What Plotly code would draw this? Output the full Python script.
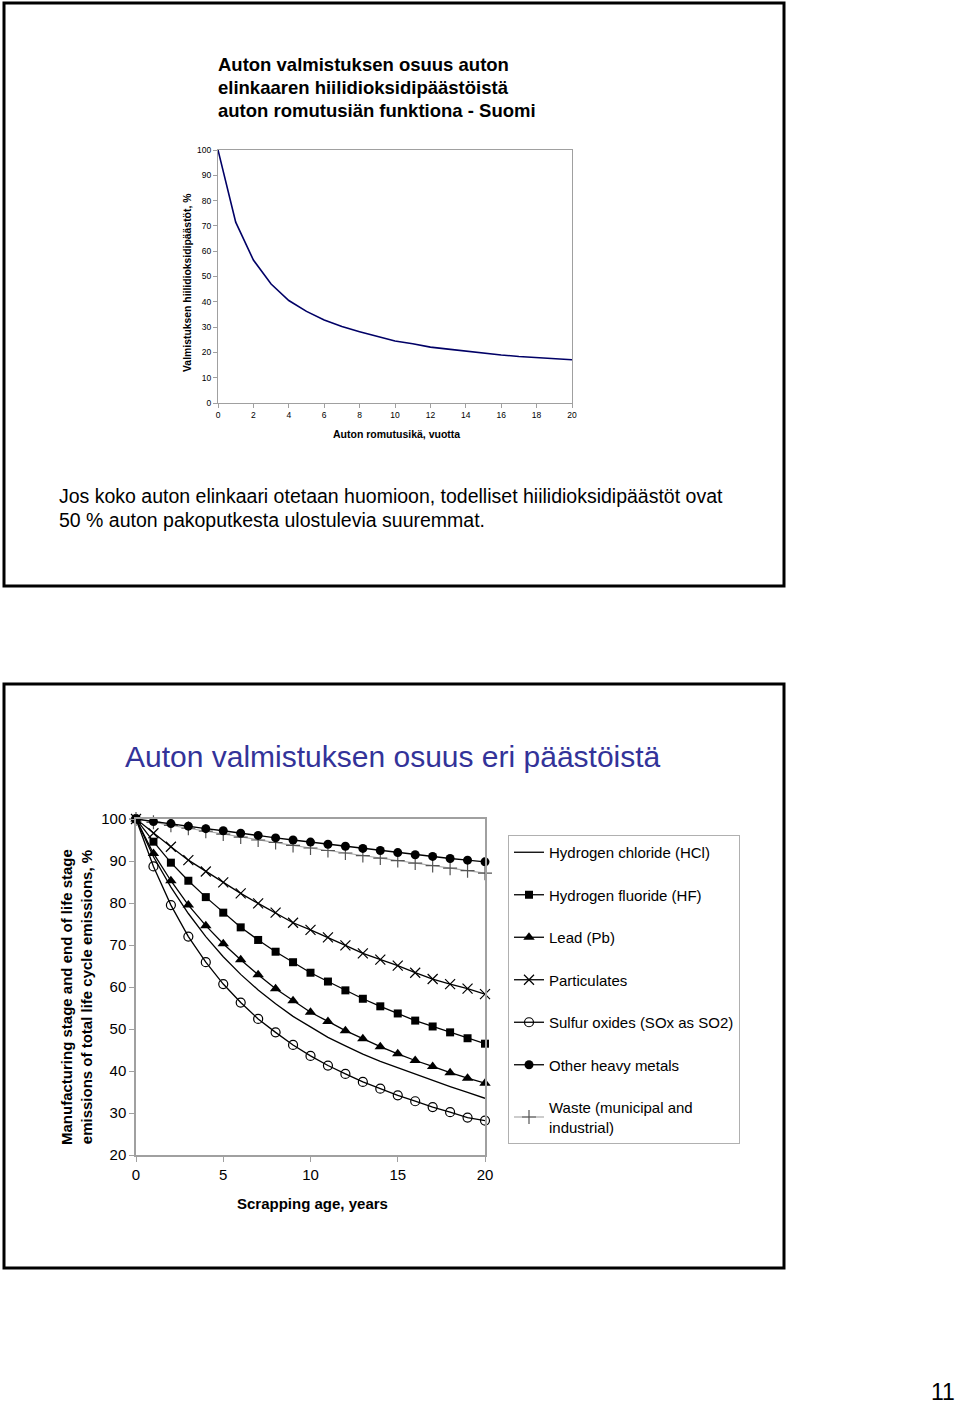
import plotly.graph_objects as go

W, H = 960, 1407
def px(x): return x / W
def py(y): return 1 - y / H

FONT = "Liberation Sans, Arial, sans-serif"

# ---------- Top chart data ----------
top_years = list(range(0, 21))
top_share = [100, 71.5, 56.5, 47.0, 40.5, 36.2, 32.8, 30.2, 28.2, 26.2, 24.5,
             23.4, 22.1, 21.3, 20.5, 19.7, 19.0, 18.4, 17.9, 17.3, 17.1]
top_xticks = list(range(0, 21, 2))
top_yticks = list(range(0, 101, 10))

# ---------- Bottom chart data ----------
years = list(range(0, 21))
hcl = [100, 91.0, 83.8, 77.5, 72.0, 67.2, 63.0, 59.3, 56.0, 53.0, 50.5,
       48.0, 46.0, 44.0, 42.3, 40.8, 39.2, 37.7, 36.3, 34.9, 33.5]
hf = [100, 94.6, 89.6, 85.3, 81.4, 77.7, 74.2, 71.2, 68.4, 65.9, 63.4,
      61.3, 59.2, 57.2, 55.4, 53.7, 52.0, 50.6, 49.2, 47.8, 46.5]
lead = [100, 91.8, 85.3, 79.5, 74.6, 70.3, 66.5, 62.9, 59.6, 56.7, 54.0,
        51.8, 49.6, 47.7, 45.8, 44.1, 42.5, 41.1, 39.6, 38.3, 37.1]
particulates = [100, 96.6, 93.4, 90.2, 87.5, 84.9, 82.3, 79.9, 77.7, 75.3, 73.6,
                71.8, 69.9, 68.0, 66.5, 65.1, 63.4, 61.9, 60.7, 59.6, 58.3]
sox = [100, 88.7, 79.5, 72.0, 65.9, 60.7, 56.3, 52.4, 49.2, 46.2, 43.6,
       41.3, 39.3, 37.4, 35.8, 34.2, 32.8, 31.4, 30.2, 28.9, 28.2]
heavy = [100, 99.4, 98.9, 98.3, 97.7, 97.2, 96.6, 96.1, 95.5, 95.0, 94.5,
         94.0, 93.5, 93.0, 92.5, 92.0, 91.5, 91.1, 90.6, 90.2, 89.8]
waste = [100, 99.2, 98.5, 97.8, 97.1, 96.4, 95.7, 95.0, 94.4, 93.7, 93.1,
         92.5, 91.9, 91.3, 90.7, 90.1, 89.5, 88.9, 88.3, 87.7, 87.1]
bot_xticks = [0, 5, 10, 15, 20]
bot_yticks = list(range(20, 101, 10))

series_names = ["Hydrogen chloride (HCl)", "Hydrogen fluoride (HF)", "Lead (Pb)",
                "Particulates", "Sulfur oxides (SOx as SO2)", "Other heavy metals",
                "Waste (municipal and<br>industrial)"]

fig = go.Figure()

# top chart line
fig.add_trace(go.Scatter(x=top_years, y=top_share, mode="lines",
                         line=dict(color="#000066", width=1.6),
                         xaxis="x", yaxis="y", showlegend=False, cliponaxis=False))

styles = [
    dict(data=hcl, mode="lines", marker=dict(), line=dict(color="black", width=1.3)),
    dict(data=hf, mode="lines+markers", marker=dict(symbol="square", size=8, color="black"),
         line=dict(color="black", width=1.3)),
    dict(data=lead, mode="lines+markers", marker=dict(symbol="triangle-up", size=10, color="black"),
         line=dict(color="black", width=1.3)),
    dict(data=particulates, mode="lines+markers",
         marker=dict(symbol="x-thin-open", size=10, color="black", line=dict(color="black", width=1.2)),
         line=dict(color="black", width=1.3)),
    dict(data=sox, mode="lines+markers",
         marker=dict(symbol="circle-open", size=9, color="black", line=dict(color="black", width=1.2)),
         line=dict(color="black", width=1.3)),
    dict(data=heavy, mode="lines+markers", marker=dict(symbol="circle", size=9, color="black"),
         line=dict(color="black", width=1.3)),
    dict(data=waste, mode="lines+markers",
         marker=dict(symbol="cross-thin-open", size=10, color="#555555", line=dict(color="#555555", width=1.2)),
         line=dict(color="#aaaaaa", width=1.2)),
]

# draw order: HF last so its square sits on top at the common start point
draw_order = [0, 2, 3, 4, 6, 5, 1]
for i in draw_order:
    name, st = series_names[i], styles[i]
    fig.add_trace(go.Scatter(x=years, y=st["data"], name=name, mode=st["mode"],
                             marker=st["marker"], line=st["line"],
                             xaxis="x2", yaxis="y2", legendgroup=f"g{i}",
                             legendrank=i + 1, cliponaxis=False))

axis_gray = "#a0a0a0"

layout = dict(
    width=W, height=H, margin=dict(l=0, r=0, t=0, b=0, pad=0, autoexpand=False),
    autosize=False,
    paper_bgcolor="white", plot_bgcolor="white",
    font=dict(family=FONT, color="black"),
    xaxis=dict(domain=[px(218), px(572)], range=[0, 20], tickvals=top_xticks,
               showgrid=False, zeroline=False, showline=True, linecolor=axis_gray, linewidth=1,
               mirror=True, ticks="outside", ticklen=4, tickcolor=axis_gray,
               tickfont=dict(size=8.5, family=FONT), anchor="y", automargin=False),
    yaxis=dict(domain=[py(403), py(150)], range=[0, 100], tickvals=top_yticks,
               showgrid=False, zeroline=False, showline=True, linecolor=axis_gray, linewidth=1,
               mirror=True, ticks="outside", ticklen=4, tickcolor=axis_gray,
               tickfont=dict(size=8.5, family=FONT), anchor="x", automargin=False),
    xaxis2=dict(domain=[px(136), px(485)], range=[0, 20], tickvals=bot_xticks,
                showgrid=False, zeroline=False, showline=True, linecolor=axis_gray, linewidth=1.5,
                mirror=True, ticks="outside", ticklen=5, tickcolor=axis_gray,
                tickfont=dict(size=15, family=FONT), anchor="y2", automargin=False),
    yaxis2=dict(domain=[py(1155), py(819)], range=[20, 100], tickvals=bot_yticks,
                showgrid=False, zeroline=False, showline=True, linecolor=axis_gray, linewidth=1.5,
                mirror=True, ticks="outside", ticklen=5, tickcolor=axis_gray,
                tickfont=dict(size=15, family=FONT), anchor="x2", automargin=False),
    legend=dict(x=px(508), y=py(835), xanchor="left", yanchor="top",
                bordercolor="#b0b0b0", borderwidth=1, bgcolor="white",
                font=dict(size=15, family=FONT), tracegroupgap=20, traceorder="grouped",
                itemwidth=30),
    showlegend=True,
)
fig.update_layout(**layout)

# slide frames
for (x0, y0, x1, y1) in [(4, 3, 784, 586), (4, 684, 784, 1268)]:
    fig.add_shape(type="rect", xref="paper", yref="paper",
                  x0=px(x0), x1=px(x1), y0=py(y1), y1=py(y0),
                  line=dict(color="black", width=3), fillcolor="rgba(0,0,0,0)")

ann = []
# top title
for i, t in enumerate(["Auton valmistuksen osuus auton",
                       "elinkaaren hiilidioksidipäästöistä",
                       "auton romutusiän funktiona - Suomi"]):
    ann.append(dict(text=f"<b>{t}</b>", x=px(216), y=py(65 + 23 * i), xanchor="left", yanchor="middle",
                    font=dict(size=18.5, family=FONT)))
# top axis titles
ann.append(dict(text="<b>Auton romutusikä, vuotta</b>", x=px(396), y=py(434), xanchor="center",
                yanchor="middle", font=dict(size=10.5, family=FONT)))
ann.append(dict(text="<b>Valmistuksen hiilidioksidipäästöt, %</b>", x=px(187), y=py(283), xanchor="center",
                yanchor="middle", textangle=-90, font=dict(size=10.4, family=FONT)))
# top paragraph
ann.append(dict(text="Jos koko auton elinkaari otetaan huomioon, todelliset hiilidioksidipäästöt ovat",
                x=px(57), y=py(496), xanchor="left", yanchor="middle", font=dict(size=19.5, family=FONT)))
ann.append(dict(text="50 % auton pakoputkesta ulostulevia suuremmat.",
                x=px(57), y=py(520), xanchor="left", yanchor="middle", font=dict(size=19.5, family=FONT)))
# bottom title
ann.append(dict(text="Auton valmistuksen osuus eri päästöistä", x=px(393), y=py(756), xanchor="center",
                yanchor="middle", font=dict(size=30, family=FONT, color="#333399")))
# bottom axis titles
ann.append(dict(text="<b>Scrapping age, years</b>", x=px(312), y=py(1203), xanchor="center",
                yanchor="middle", font=dict(size=15, family=FONT)))
ann.append(dict(text="<b>Manufacturing stage and end of life stage<br>emissions of total life cycle emissions, %</b>",
                x=px(77), y=py(997), xanchor="center", yanchor="middle", textangle=-90,
                font=dict(size=15, family=FONT)))
# page number
ann.append(dict(text="11", x=px(943), y=py(1392), xanchor="center", yanchor="middle",
                font=dict(size=23, family=FONT)))

for a in ann:
    a.update(xref="paper", yref="paper", showarrow=False)
fig.update_layout(annotations=ann)

fig.write_html("out.html", config={"displayModeBar": False},
               post_script="document.body.style.margin='0';document.body.style.padding='0';"
                           "document.documentElement.style.overflow='hidden';")
